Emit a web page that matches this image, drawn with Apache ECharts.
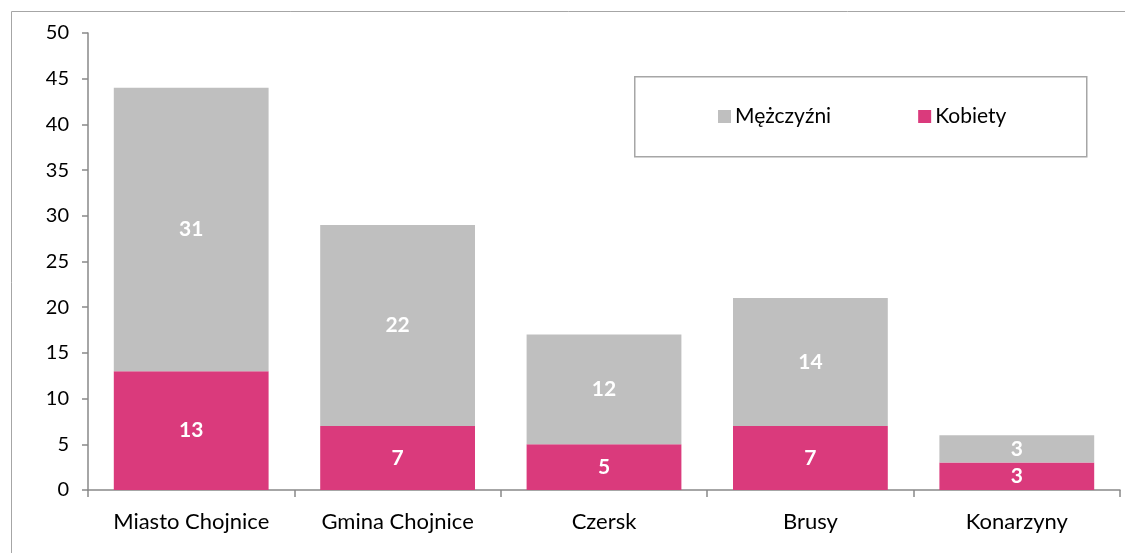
<!DOCTYPE html>
<html>
<head>
<meta charset="utf-8">
<style>html,body{margin:0;height:100%;background:#fff}#main{width:1125px;height:553px}</style>
</head>
<body>
<div id="main"></div>
<script src="https://cdn.jsdelivr.net/npm/echarts@6/dist/echarts.min.js"></script>
<script>
var categories = ['Miasto Chojnice', 'Gmina Chojnice', 'Czersk', 'Brusy', 'Konarzyny'];
var kobiety = [13, 7, 5, 7, 3];
var mezczyzni = [31, 22, 12, 14, 3];
var yTicks = [0, 5, 10, 15, 20, 25, 30, 35, 40, 45, 50];

var font = 'Lato, "Open Sans", sans-serif';
var axisCol = '#898989';
var fs = 21;

var chart = echarts.init(document.getElementById('main'));
chart.setOption({
  animation: false,
  textStyle: { fontFamily: font },
  graphic: [{
    type: 'rect', left: 9, top: 9, z: -1,
    shape: { width: 1300, height: 700 },
    style: { fill: 'none', stroke: '#a6a6a6', lineWidth: 1 }
  }, {
    // legend frame
    type: 'rect', left: 634, top: 76, z: -1,
    shape: { width: 452, height: 80 },
    style: { fill: '#fff', stroke: '#a6a6a6', lineWidth: 1.5 }
  }],
  grid: { left: 88, right: 5, top: 33, bottom: 63 },
  legend: {
    data: ['Mężczyźni', 'Kobiety'],
    left: 718, top: 106,
    padding: 0,
    itemWidth: 13, itemHeight: 13, itemGap: 87,
    icon: 'rect',
    textStyle: { fontSize: fs, color: '#000', fontFamily: font, padding: [0, 0, 0, -1] }
  },
  xAxis: {
    type: 'category',
    data: categories,
    axisLine: { lineStyle: { color: axisCol, width: 1.5 } },
    axisTick: { show: true, length: 7, lineStyle: { color: axisCol, width: 1.5 } },
    axisLabel: { color: '#000', fontSize: 22, margin: 21, fontFamily: font }
  },
  yAxis: {
    type: 'value',
    min: yTicks[0], max: yTicks[yTicks.length - 1], interval: 5,
    splitLine: { show: false },
    axisLine: { show: true, lineStyle: { color: axisCol, width: 1.5 } },
    axisTick: { show: true, length: 6, lineStyle: { color: axisCol, width: 1.5 } },
    axisLabel: { color: '#000', fontSize: 20, margin: 19, fontFamily: font }
  },
  series: [
    {
      name: 'Kobiety', type: 'bar', stack: 'a', data: kobiety,
      barCategoryGap: '25%',
      itemStyle: { color: '#da3a7c' },
      label: { show: true, color: '#fff', fontWeight: 'bold', fontSize: fs, fontFamily: font }
    },
    {
      name: 'Mężczyźni', type: 'bar', stack: 'a', data: mezczyzni,
      barCategoryGap: '25%',
      itemStyle: { color: '#bfbfbf' },
      label: { show: true, color: '#fff', fontWeight: 'bold', fontSize: fs, fontFamily: font }
    }
  ]
});
</script>
</body>
</html>
